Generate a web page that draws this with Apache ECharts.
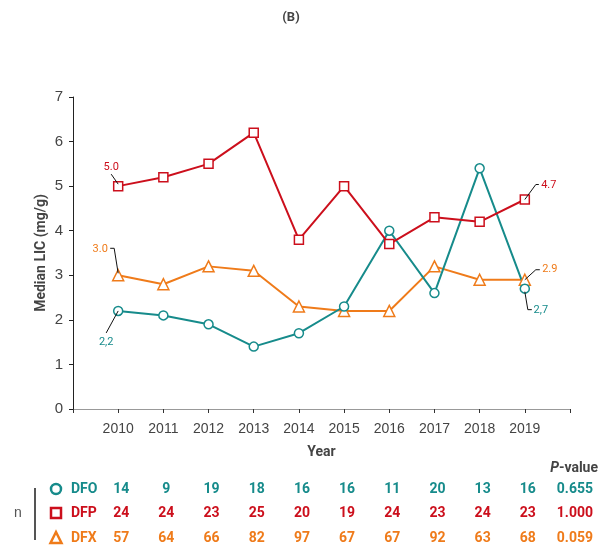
<!DOCTYPE html>
<html>
<head>
<meta charset="utf-8">
<style>
  html, body { margin: 0; padding: 0; background: #fff; }
  #chart { width: 600px; height: 552px; }
</style>
<script src="https://cdn.jsdelivr.net/npm/echarts@6/dist/echarts.min.js"></script>
</head>
<body>
<div id="chart"></div>
<script>
// Median liver iron concentration by chelator, 2010-2019
const years = [2010, 2011, 2012, 2013, 2014, 2015, 2016, 2017, 2018, 2019];
const dfoLIC = [2.2, 2.1, 1.9, 1.4, 1.7, 2.3, 4.0, 2.6, 5.4, 2.7];
const dfpLIC = [5.0, 5.2, 5.5, 6.2, 3.8, 5.0, 3.7, 4.3, 4.2, 4.7];
const dfxLIC = [3.0, 2.8, 3.2, 3.1, 2.3, 2.2, 2.2, 3.2, 2.9, 2.9];

// Patients per year
const nDFO = [14, 9, 19, 18, 16, 16, 11, 20, 13, 16];
const nDFP = [24, 24, 23, 25, 20, 19, 24, 23, 24, 23];
const nDFX = [57, 64, 66, 82, 97, 67, 67, 92, 63, 68];
const pValues = ['0.655', '1.000', '0.059'];
const groupNames = ['DFO', 'DFP', 'DFX'];

const TEAL = '#168b8b';
const RED = '#cc0f1c';
const ORANGE = '#ef7b1a';
const GREY = '#444';
const NARROW = "'Liberation Sans Narrow', 'Roboto', 'Liberation Sans', sans-serif";
const PLAIN = "'Liberation Sans', Arial, sans-serif";

const chart = echarts.init(document.getElementById('chart'), null, { renderer: 'canvas' });

function lineSeries(name, values, color, symbol, size) {
  return {
    name: name,
    type: 'line',
    data: years.map((y, i) => [y, values[i]]),
    symbol: symbol,
    symbolSize: size,
    showAllSymbol: true,
    lineStyle: { color: color, width: 2 },
    itemStyle: { color: '#fff', borderColor: color, borderWidth: 1.5 },
    z: 3
  };
}

chart.setOption({
  animation: false,
  backgroundColor: '#fff',
  grid: { left: 73, right: 30, top: 97, bottom: 143 },
  xAxis: {
    type: 'value',
    min: 2009, max: 2020, interval: 1,
    name: 'Year',
    nameLocation: 'middle',
    nameGap: 36,
    nameMoveOverlap: false,
    nameTextStyle: { fontFamily: NARROW, fontWeight: 'bold', fontSize: 14, color: GREY },
    axisLine: { show: true, lineStyle: { color: '#999', width: 1 } },
    axisTick: { show: true, length: 4, lineStyle: { color: '#333' } },
    axisLabel: {
      fontFamily: PLAIN, fontSize: 14, color: GREY, margin: 13,
      formatter: v => (v === 2009 || v === 2020) ? '' : String(v),
      showMinLabel: true, showMaxLabel: true
    },
    splitLine: { show: false }
  },
  yAxis: {
    type: 'value',
    min: 0, max: 7, interval: 1,
    name: 'Median LIC (mg/g)',
    nameLocation: 'middle',
    nameGap: 25,
    nameRotate: 90,
    nameMoveOverlap: false,
    nameTextStyle: { fontFamily: NARROW, fontWeight: 'bold', fontSize: 14, color: GREY },
    axisLine: { show: true, lineStyle: { color: '#222', width: 1 } },
    axisTick: { show: true, length: 4, lineStyle: { color: '#222' } },
    axisLabel: { fontFamily: PLAIN, fontSize: 15, color: GREY, margin: 10 },
    splitLine: { show: false }
  },
  series: [
    lineSeries('DFX', dfxLIC, ORANGE, 'triangle', 11),
    lineSeries('DFO', dfoLIC, TEAL, 'circle', 9),
    lineSeries('DFP', dfpLIC, RED, 'rect', 9)
  ]
});

// Callouts: value text + leader line, offsets relative to the point (px)
const callouts = [
  { vals: dfpLIC, idx: 0, color: RED,    sep: '.', text: [-7, -19],  line: [[-7, -12], [0, -2]] },
  { vals: dfxLIC, idx: 0, color: ORANGE, sep: '.', text: [-18, -26], line: [[-8, -27], [-4, -27], [0, -2]] },
  { vals: dfoLIC, idx: 0, color: TEAL,   sep: ',', text: [-12, 31],  line: [[-12, 22], [0, 0]] },
  { vals: dfpLIC, idx: 9, color: RED,    sep: '.', text: [24, -14],  line: [[0, 0], [11, -15], [14, -15]] },
  { vals: dfxLIC, idx: 9, color: ORANGE, sep: '.', text: [25, -10],  line: [[0, 0], [11, -10], [15, -10]] },
  { vals: dfoLIC, idx: 9, color: TEAL,   sep: ',', text: [16, 22],   line: [[0, 3], [3, 21], [7, 21]] }
];

const graphics = [];

// Panel tag
graphics.push({
  type: 'text', x: 291, y: 18,
  style: { text: '(B)', fontFamily: NARROW, fontWeight: 'bold', fontSize: 13, fill: GREY, align: 'center', verticalAlign: 'middle' }
});

callouts.forEach(c => {
  const p = chart.convertToPixel({ gridIndex: 0 }, [years[c.idx], c.vals[c.idx]]);
  graphics.push({
    type: 'polyline', z: 10,
    shape: { points: c.line.map(o => [p[0] + o[0], p[1] + o[1]]) },
    style: { stroke: '#111', lineWidth: 1, fill: null }
  });
  graphics.push({
    type: 'text', z: 10,
    x: p[0] + c.text[0], y: p[1] + c.text[1],
    style: { text: c.vals[c.idx].toFixed(1).replace('.', c.sep), fontFamily: NARROW, fontSize: 11, fill: c.color, align: 'center', verticalAlign: 'middle' }
  });
});

// Sample-size table below the axis
const rowY = [489, 513, 538];
const rowColors = [TEAL, RED, ORANGE];
const rowCounts = [nDFO, nDFP, nDFX];

graphics.push({
  type: 'text', x: 598, y: 468,
  style: {
    text: '{i|P}{b|-value}', align: 'right', verticalAlign: 'middle',
    rich: {
      i: { fontFamily: NARROW, fontWeight: 'bold', fontStyle: 'italic', fontSize: 14, fill: GREY },
      b: { fontFamily: NARROW, fontWeight: 'bold', fontSize: 14, fill: GREY }
    }
  }
});
graphics.push({
  type: 'text', x: 18, y: 513,
  style: { text: 'n', fontFamily: PLAIN, fontSize: 14, fill: '#555', align: 'center', verticalAlign: 'middle' }
});
graphics.push({
  type: 'line', shape: { x1: 35, y1: 488, x2: 35, y2: 540 },
  style: { stroke: '#555', lineWidth: 2 }
});

// Group icons
graphics.push({ type: 'circle', shape: { cx: 56, cy: rowY[0], r: 5 }, style: { fill: '#fff', stroke: TEAL, lineWidth: 2.5 } });
graphics.push({ type: 'rect', shape: { x: 51, y: rowY[1] - 5, width: 10, height: 10 }, style: { fill: '#fff', stroke: RED, lineWidth: 2.5 } });
graphics.push({ type: 'polygon', shape: { points: [[56, rowY[2] - 6], [61.5, rowY[2] + 5], [50.5, rowY[2] + 5]] }, style: { fill: '#fff', stroke: ORANGE, lineWidth: 2.5 } });

groupNames.forEach((g, r) => {
  const textStyle = { fontFamily: NARROW, fontWeight: 'bold', fontSize: 14, fill: rowColors[r], verticalAlign: 'middle' };
  graphics.push({ type: 'text', x: 71, y: rowY[r], style: Object.assign({ text: g, align: 'left' }, textStyle) });
  rowCounts[r].forEach((n, i) => {
    const px = chart.convertToPixel({ gridIndex: 0 }, [years[i], 0])[0];
    graphics.push({ type: 'text', x: px + 3, y: rowY[r], style: Object.assign({ text: String(n), align: 'center' }, textStyle) });
  });
  graphics.push({ type: 'text', x: 593, y: rowY[r], style: Object.assign({ text: pValues[r], align: 'right' }, textStyle) });
});

chart.setOption({ graphic: graphics });
</script>
</body>
</html>
